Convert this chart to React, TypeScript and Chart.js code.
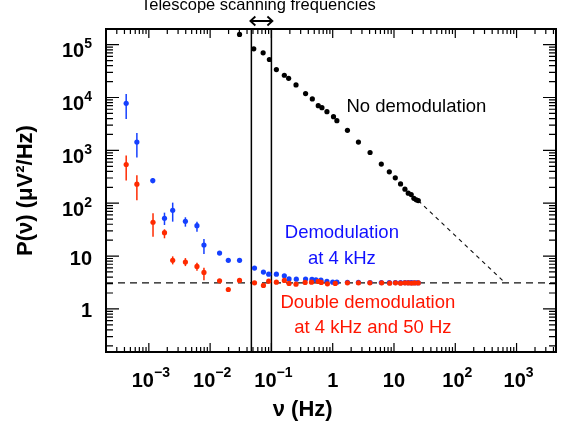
import React, { useEffect, useRef } from 'react';
import { Chart, registerables } from 'chart.js';

Chart.register(...registerables);

// ---- axis ranges & ticks ----
const xMin = 2e-4;
const xMax = 4400;
const yMin = 0.153;
const yMax = 1.98e5;
const xTickValues = [1e-3, 1e-2, 1e-1, 1, 10, 100, 1000];
const xTickBase = ['10', '10', '10', '1', '10', '10', '10'];
const xTickExp = ['−3', '−2', '−1', '', '', '2', '3'];
const yTickValues = [1, 10, 100, 1000, 1e4, 1e5];
const yTickBase = ['1', '10', '10', '10', '10', '10'];
const yTickExp = ['', '', '2', '3', '4', '5'];

// ---- No demodulation (black) ----
const blackFreq = [0.0302, 0.0515, 0.0733, 0.0927, 0.1205, 0.1625, 0.191, 0.252, 0.361, 0.465, 0.581, 0.667, 0.805, 1.03, 1.17, 1.74, 2.63, 4.07, 6.21, 8.39, 10.5, 12.8, 15.1, 17.1, 19.1, 21.1, 23.1, 24.9];
const blackPower = [156000, 83600, 70200, 52400, 33800, 26400, 23100, 17300, 11900, 9400, 7020, 6430, 5400, 4340, 3650, 2390, 1437, 912, 550, 393, 302, 232, 184, 155, 146, 124, 116, 112];

// ---- Demodulation at 4 kHz (blue) ----
const blueFreq = [4.27e-4, 6.38e-4, 1.16e-3, 1.8e-3, 2.45e-3, 3.95e-3, 6.1e-3, 7.93e-3, 0.01426, 0.0198, 0.0302, 0.053, 0.0741, 0.0904, 0.1205, 0.1625, 0.194, 0.255, 0.361, 0.459, 0.533, 0.643, 0.805, 1.0, 1.17, 1.74, 2.63, 4.07, 6.21, 8.39, 10.5, 12.8, 15.1, 17.1, 19.1, 21.1, 23.1, 24.9];
const bluePower = [7760, 1437, 268, 51.9, 73.6, 45.5, 37.6, 16.2, 11.4, 8.29, 8.29, 5.92, 4.97, 4.55, 4.55, 4.23, 3.7, 3.66, 3.68, 3.61, 3.55, 3.5, 3.31, 3.21, 3.2, 3.18, 3.17, 3.16, 3.15, 3.15, 3.15, 3.14, 3.14, 3.14, 3.14, 3.13, 3.13, 3.13];
const blueErrLow = [3930, 733, 240, 38.7, 44.8, 36.0, 28.9, 10.9];
const blueErrHigh = [11700, 2130, 298, 66.3, 102.6, 54.2, 44.8, 21.0];

// ---- Double demodulation at 4 kHz and 50 Hz (red) ----
const redFreq = [4.27e-4, 6.38e-4, 1.17e-3, 1.8e-3, 2.45e-3, 3.95e-3, 6.1e-3, 7.93e-3, 0.01426, 0.0198, 0.0302, 0.053, 0.0741, 0.0904, 0.1205, 0.1625, 0.194, 0.252, 0.355, 0.451, 0.581, 0.65, 0.82, 1.1, 1.74, 2.63, 4.04, 6.3, 8.5, 10.6, 12.8, 15.1, 17.1, 19.3, 21.6, 24.9];
const redPower = [540, 229.5, 43.6, 27.7, 8.29, 7.69, 6.38, 4.91, 3.4, 2.33, 3.46, 3.11, 2.78, 3.35, 3.21, 3.46, 3.03, 2.94, 3.17, 3.21, 3.31, 3.17, 2.98, 3.03, 3.11, 3.11, 3.11, 3.11, 3.07, 3.11, 3.07, 3.11, 3.1, 3.08, 3.1, 3.1];
const redErrLow = [268, 114, 23.2, 21.7, 6.96, 6.46, 5.26, 3.5];
const redErrHigh = [800, 340, 64.6, 32.1, 9.87, 9.16, 7.46, 6.0];

// ---- reference lines ----
const noiseFloor = 3.1;
const extrapFreq = [24.9, 655];
const extrapPower = [112, 3.1];
const scanLow = 0.0471;
const scanHigh = 0.1;

const BLUE = '#1540ff';
const RED = '#ff2a00';
const BLUE_TXT = '#1010ff';
const RED_TXT = '#ff1500';
const FAMILY = '"Liberation Sans", Arial, sans-serif';

const annotations = [
  { text: 'No demodulation', x: 23.2, y: 6720, color: '#000' },
  { text: 'Demodulation', x: 1.41, y: 27.3, color: BLUE_TXT },
  { text: 'at 4 kHz', x: 1.41, y: 8.77, color: BLUE_TXT },
  { text: 'Double demodulation', x: 3.75, y: 1.28, color: RED_TXT },
  { text: 'at 4 kHz and 50 Hz', x: 4.52, y: 0.43, color: RED_TXT },
];

const pts = (xs: number[], ys: number[]) => xs.map((x, i) => ({ x, y: ys[i] }));

const errorSeries = [
  { freq: blueFreq, low: blueErrLow, high: blueErrHigh, color: BLUE },
  { freq: redFreq, low: redErrLow, high: redErrHigh, color: RED },
];

const errorBarPlugin = {
  id: 'errorBars',
  beforeDatasetsDraw(chart: any) {
    const { ctx, chartArea: a, scales } = chart;
    const x = scales.x, y = scales.y;
    ctx.save();
    ctx.beginPath();
    ctx.rect(a.left, a.top, a.width, a.height);
    ctx.clip();
    ctx.lineWidth = 1.5;
    errorSeries.forEach((s) => {
      ctx.strokeStyle = s.color;
      s.low.forEach((lo, i) => {
        const px = x.getPixelForValue(s.freq[i]);
        ctx.beginPath();
        ctx.moveTo(px, y.getPixelForValue(lo));
        ctx.lineTo(px, y.getPixelForValue(s.high[i]));
        ctx.stroke();
      });
    });
    ctx.restore();
  },
};

const framePlugin = {
  id: 'frameTicks',
  afterDraw(chart: any) {
    const { ctx, chartArea: a, scales } = chart;
    const x = scales.x, y = scales.y;
    ctx.save();
    ctx.strokeStyle = '#000';
    ctx.lineWidth = 1.2;
    for (let d = Math.floor(Math.log10(xMin)); d <= Math.ceil(Math.log10(xMax)); d++) {
      for (let m = 1; m <= 9; m++) {
        const v = m * Math.pow(10, d);
        if (v < xMin || v > xMax) continue;
        const px = x.getPixelForValue(v);
        const len = m === 1 ? 9 : 5;
        ctx.beginPath();
        ctx.moveTo(px, a.bottom);
        ctx.lineTo(px, a.bottom - len);
        ctx.moveTo(px, a.top);
        ctx.lineTo(px, a.top + len);
        ctx.stroke();
      }
    }
    for (let d = Math.floor(Math.log10(yMin)); d <= Math.ceil(Math.log10(yMax)); d++) {
      for (let m = 1; m <= 9; m++) {
        const v = m * Math.pow(10, d);
        if (v < yMin || v > yMax) continue;
        const py = y.getPixelForValue(v);
        const len = m === 1 ? 13 : 7;
        ctx.beginPath();
        ctx.moveTo(a.left, py);
        ctx.lineTo(a.left + len, py);
        ctx.moveTo(a.right, py);
        ctx.lineTo(a.right - len, py);
        ctx.stroke();
      }
    }
    ctx.lineWidth = 2;
    ctx.strokeRect(a.left, a.top, a.width, a.height);

    // tick labels with superscript exponents
    const baseFont = `bold 20px ${FAMILY}`;
    const expFont = `bold 14px ${FAMILY}`;
    ctx.fillStyle = '#000';
    ctx.textAlign = 'left';
    ctx.textBaseline = 'alphabetic';
    xTickValues.forEach((v, i) => {
      const px = x.getPixelForValue(v);
      ctx.font = baseFont;
      const bw = ctx.measureText(xTickBase[i]).width;
      ctx.font = expFont;
      const ew = xTickExp[i] ? ctx.measureText(xTickExp[i]).width : 0;
      const left = px - (bw + ew) / 2 + (ew ? 2 : 0);
      ctx.font = baseFont;
      ctx.fillText(xTickBase[i], left, a.bottom + 35);
      if (ew) {
        ctx.font = expFont;
        ctx.fillText(xTickExp[i], left + bw, a.bottom + 25);
      }
    });
    const yRight = a.left - 14;
    yTickValues.forEach((v, i) => {
      const py = y.getPixelForValue(v);
      ctx.font = expFont;
      const ew = yTickExp[i] ? ctx.measureText(yTickExp[i]).width : 0;
      ctx.font = baseFont;
      const bw = ctx.measureText(yTickBase[i]).width;
      if (ew) {
        ctx.fillText(yTickBase[i], yRight - ew - bw, py + 12.3);
        ctx.font = expFont;
        ctx.fillText(yTickExp[i], yRight - ew, py + 3.8);
      } else {
        ctx.fillText(yTickBase[i], yRight - bw, py + 8.5);
      }
    });

    // annotations
    ctx.textAlign = 'center';
    ctx.textBaseline = 'middle';
    ctx.font = `18.5px ${FAMILY}`;
    annotations.forEach((t) => {
      ctx.fillStyle = t.color;
      ctx.fillText(t.text, x.getPixelForValue(t.x), y.getPixelForValue(t.y));
    });

    // telescope scanning band label and arrow
    const x1 = x.getPixelForValue(scanLow);
    const x2 = x.getPixelForValue(scanHigh);
    ctx.fillStyle = '#000';
    ctx.font = `16.5px ${FAMILY}`;
    ctx.textBaseline = 'alphabetic';
    ctx.fillText('Telescope scanning frequencies', (x1 + x2) / 2 - 3, a.top - 19);
    const ay = a.top - 8;
    ctx.lineWidth = 1.8;
    ctx.beginPath();
    ctx.moveTo(x1 - 1, ay);
    ctx.lineTo(x2 + 1, ay);
    ctx.moveTo(x1 + 4, ay - 4.5);
    ctx.lineTo(x1 - 1, ay);
    ctx.lineTo(x1 + 4, ay + 4.5);
    ctx.moveTo(x2 - 4, ay - 4.5);
    ctx.lineTo(x2 + 1, ay);
    ctx.lineTo(x2 - 4, ay + 4.5);
    ctx.stroke();

    // x axis title
    ctx.font = `bold 22px ${FAMILY}`;
    ctx.textBaseline = 'middle';
    ctx.fillText('ν (Hz)', a.left + a.width * 0.437, a.bottom + 58);
    ctx.restore();
  },
};

export default function App() {
  const ref = useRef<HTMLCanvasElement>(null);
  useEffect(() => {
    if (!ref.current) return;
    const chart = new Chart(ref.current, {
      type: 'scatter',
      data: {
        datasets: [
          { label: 'Double demodulation', data: pts(redFreq, redPower), backgroundColor: RED, borderColor: RED, pointRadius: 2.6, pointBorderWidth: 0 },
          { label: 'Demodulation', data: pts(blueFreq, bluePower), backgroundColor: BLUE, borderColor: BLUE, pointRadius: 2.6, pointBorderWidth: 0 },
          { label: 'No demodulation', data: pts(blackFreq, blackPower), backgroundColor: '#000', borderColor: '#000', pointRadius: 2.6, pointBorderWidth: 0 },
          { label: 'noise floor', data: [{ x: xMin, y: noiseFloor }, { x: xMax, y: noiseFloor }], showLine: true, borderColor: '#111', borderWidth: 1.3, borderDash: [7, 5], pointRadius: 0 },
          { label: 'extrapolation', data: pts(extrapFreq, extrapPower), showLine: true, borderColor: '#111', borderWidth: 1.2, borderDash: [4, 4], pointRadius: 0 },
          { label: 'scan low', data: [{ x: scanLow, y: yMin }, { x: scanLow, y: yMax }], showLine: true, borderColor: '#000', borderWidth: 1.5, pointRadius: 0 },
          { label: 'scan high', data: [{ x: scanHigh, y: yMin }, { x: scanHigh, y: yMax }], showLine: true, borderColor: '#000', borderWidth: 1.5, pointRadius: 0 },
        ],
      },
      options: {
        animation: false,
        responsive: false,
        devicePixelRatio: 1,
        layout: { padding: { top: 29, right: 11, bottom: 0, left: 0 } },
        plugins: { legend: { display: false }, tooltip: { enabled: false } },
        scales: {
          x: {
            type: 'logarithmic',
            min: xMin,
            max: xMax,
            position: 'bottom',
            grid: { display: false, drawTicks: false },
            border: { display: false },
            afterBuildTicks: (s: any) => { s.ticks = xTickValues.map((v) => ({ value: v })); },
            afterFit: (s: any) => { s.height = 77; },
            ticks: { display: false, autoSkip: false, maxRotation: 0 },
          },
          y: {
            type: 'logarithmic',
            min: yMin,
            max: yMax,
            grid: { display: false, drawTicks: false },
            border: { display: false },
            afterBuildTicks: (s: any) => { s.ticks = yTickValues.map((v) => ({ value: v })); },
            afterFit: (s: any) => { s.width = 106; },
            ticks: { display: false, autoSkip: false },
            title: {
              display: true,
              text: 'P(ν) (μV²/Hz)',
              color: '#000',
              font: { family: FAMILY, size: 22, weight: 'bold' },
              padding: { top: 13, bottom: 0 },
            },
          },
        },
      },
      plugins: [errorBarPlugin, framePlugin],
    } as any);
    return () => chart.destroy();
  }, []);
  return (
    <div style={{ position: 'absolute', left: 0, top: 0, width: 567, height: 429, background: '#fff' }}>
      <canvas ref={ref} width={567} height={429} style={{ display: 'block', width: 567, height: 429 }} />
    </div>
  );
}
